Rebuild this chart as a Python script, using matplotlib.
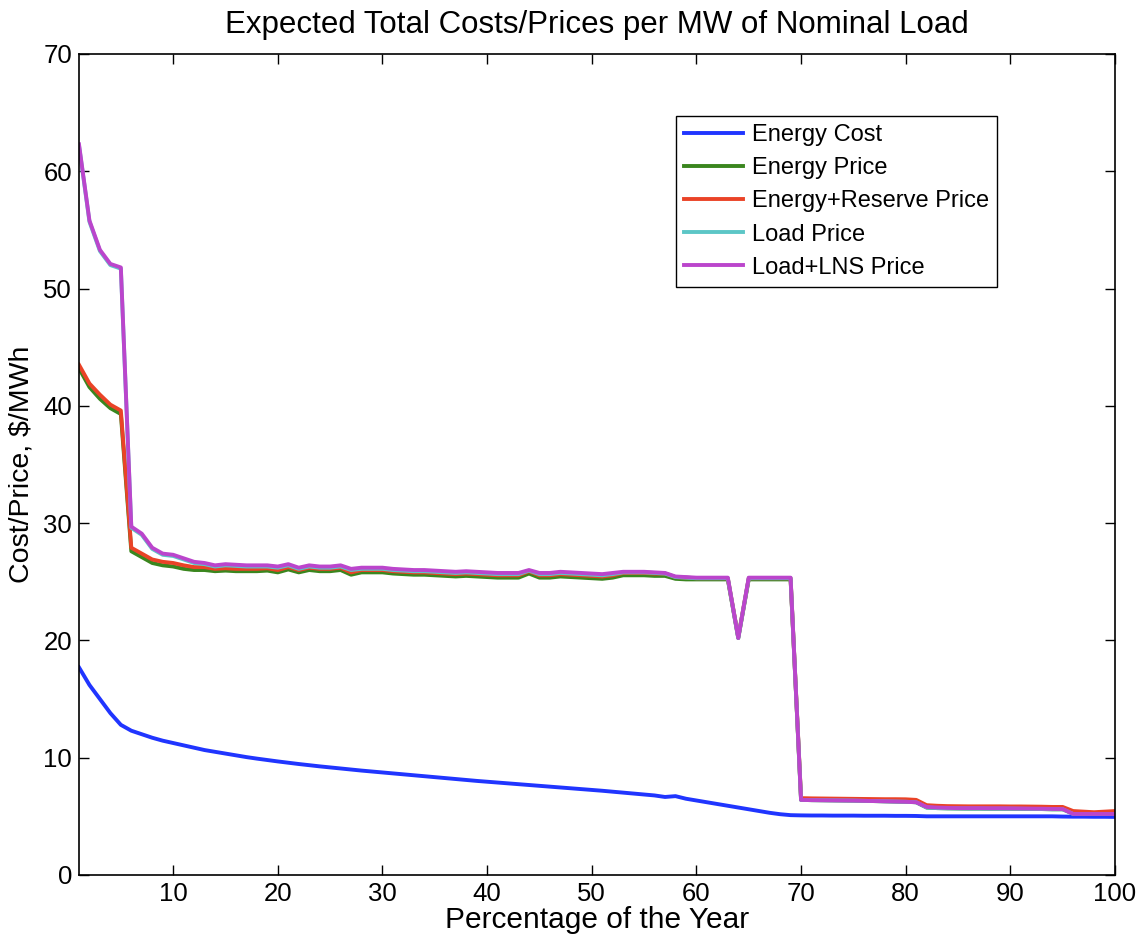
import matplotlib
matplotlib.use("Agg")
import matplotlib.pyplot as plt

plt.rcParams['font.family'] = ['Liberation Sans', 'DejaVu Sans']

pct = list(range(1, 101))

energy_cost = [
    17.7, 16.2, 15.0, 13.8, 12.8, 12.3, 12.0, 11.7, 11.45, 11.25,
    11.05, 10.85, 10.65, 10.5, 10.35, 10.2, 10.05, 9.92, 9.8, 9.68,
    9.57, 9.46, 9.36, 9.26, 9.17, 9.08, 8.99, 8.9, 8.82, 8.74,
    8.66, 8.58, 8.5, 8.42, 8.34, 8.26, 8.18, 8.1, 8.02, 7.95,
    7.88, 7.81, 7.74, 7.67, 7.6, 7.53, 7.46, 7.39, 7.32, 7.25,
    7.18, 7.1, 7.02, 6.94, 6.86, 6.78, 6.65, 6.72, 6.5, 6.35,
    6.2, 6.05, 5.9, 5.75, 5.6, 5.45, 5.3, 5.18, 5.1, 5.08,
    5.07, 5.07, 5.06, 5.06, 5.06, 5.05, 5.05, 5.05, 5.04, 5.04,
    5.03, 5.0, 5.0, 5.0, 5.0, 5.0, 5.0, 5.0, 5.0, 5.0,
    5.0, 5.0, 5.0, 5.0, 4.98, 4.97, 4.97, 4.96, 4.96, 4.95,
]

energy_price = [
    43.2, 41.6, 40.6, 39.8, 39.3, 27.6, 27.1, 26.6, 26.4, 26.3,
    26.1, 26.0, 26.0, 25.9, 25.95, 25.9, 25.9, 25.9, 25.95, 25.8,
    26.05, 25.8, 26.0, 25.9, 25.9, 26.0, 25.6, 25.8, 25.8, 25.8,
    25.7, 25.65, 25.6, 25.6, 25.55, 25.5, 25.45, 25.5, 25.45, 25.4,
    25.35, 25.35, 25.35, 25.7, 25.35, 25.35, 25.45, 25.4, 25.35, 25.3,
    25.25, 25.35, 25.55, 25.55, 25.55, 25.5, 25.5, 25.25, 25.2, 25.2,
    25.2, 25.2, 25.2, 20.2, 25.2, 25.2, 25.2, 25.2, 25.2, 6.4,
    6.38, 6.37, 6.36, 6.35, 6.34, 6.32, 6.3, 6.28, 6.26, 6.24,
    6.2, 5.75, 5.7, 5.68, 5.67, 5.66, 5.66, 5.65, 5.65, 5.65,
    5.64, 5.63, 5.62, 5.6, 5.6, 5.25, 5.2, 5.2, 5.2, 5.25,
]

energy_reserve_price = [
    43.5, 41.9, 40.95, 40.1, 39.6, 27.9, 27.4, 26.9, 26.7, 26.6,
    26.4, 26.25, 26.25, 26.1, 26.15, 26.1, 26.1, 26.1, 26.15, 26.0,
    26.25, 26.0, 26.2, 26.1, 26.1, 26.2, 25.8, 26.0, 26.0, 26.0,
    25.9, 25.85, 25.8, 25.8, 25.75, 25.7, 25.65, 25.7, 25.65, 25.6,
    25.55, 25.55, 25.55, 25.9, 25.55, 25.55, 25.65, 25.6, 25.55, 25.5,
    25.45, 25.55, 25.75, 25.75, 25.75, 25.7, 25.7, 25.4, 25.35, 25.3,
    25.3, 25.3, 25.3, 20.3, 25.3, 25.3, 25.3, 25.3, 25.3, 6.55,
    6.53, 6.52, 6.51, 6.5, 6.49, 6.48, 6.47, 6.46, 6.46, 6.45,
    6.4, 5.95, 5.9, 5.87, 5.86, 5.85, 5.85, 5.85, 5.85, 5.84,
    5.84, 5.83, 5.82, 5.8, 5.8, 5.45, 5.4, 5.35, 5.4, 5.45,
]

load_price = [
    62.2, 55.7, 53.2, 52.0, 51.7, 29.6, 29.0, 27.8, 27.3, 27.2,
    26.9, 26.6, 26.5, 26.3, 26.4, 26.35, 26.3, 26.3, 26.3, 26.2,
    26.4, 26.1, 26.3, 26.2, 26.2, 26.3, 26.0, 26.1, 26.1, 26.1,
    26.0, 25.95, 25.9, 25.9, 25.85, 25.8, 25.75, 25.8, 25.75, 25.7,
    25.65, 25.65, 25.65, 25.95, 25.65, 25.65, 25.75, 25.7, 25.65, 25.6,
    25.55, 25.65, 25.8, 25.8, 25.8, 25.75, 25.7, 25.4, 25.35, 25.3,
    25.3, 25.3, 25.3, 20.2, 25.3, 25.3, 25.3, 25.3, 25.3, 6.4,
    6.38, 6.37, 6.36, 6.35, 6.34, 6.32, 6.3, 6.28, 6.26, 6.24,
    6.2, 5.75, 5.7, 5.68, 5.67, 5.66, 5.66, 5.65, 5.65, 5.65,
    5.64, 5.63, 5.62, 5.6, 5.6, 5.2, 5.2, 5.2, 5.2, 5.2,
]

load_lns_price = [
    62.3, 55.8, 53.3, 52.1, 51.8, 29.7, 29.1, 27.9, 27.4, 27.3,
    27.0, 26.7, 26.6, 26.4, 26.5, 26.45, 26.4, 26.4, 26.4, 26.3,
    26.5, 26.2, 26.4, 26.3, 26.3, 26.4, 26.1, 26.2, 26.2, 26.2,
    26.1, 26.05, 26.0, 26.0, 25.95, 25.9, 25.85, 25.9, 25.85, 25.8,
    25.75, 25.75, 25.75, 26.0, 25.75, 25.75, 25.85, 25.8, 25.75, 25.7,
    25.65, 25.75, 25.85, 25.85, 25.85, 25.8, 25.75, 25.45, 25.4, 25.35,
    25.35, 25.35, 25.35, 20.2, 25.35, 25.35, 25.35, 25.35, 25.35, 6.4,
    6.38, 6.37, 6.36, 6.35, 6.34, 6.32, 6.3, 6.28, 6.26, 6.24,
    6.2, 5.8, 5.75, 5.72, 5.7, 5.7, 5.7, 5.69, 5.69, 5.68,
    5.67, 5.66, 5.65, 5.63, 5.62, 5.2, 5.2, 5.2, 5.2, 5.2,
]

fig = plt.figure(figsize=(11.43, 9.39), dpi=100)
ax = fig.add_axes([0.0691, 0.0682, 0.9064, 0.8743])

lw = 2.8
ax.plot(pct, energy_cost, color='#2035ff', lw=lw, label='Energy Cost')
ax.plot(pct, energy_price, color='#3a861e', lw=lw, label='Energy Price')
ax.plot(pct, energy_reserve_price, color='#ea4327', lw=lw, label='Energy+Reserve Price')
ax.plot(pct, load_price, color='#5cc6c6', lw=lw, label='Load Price')
ax.plot(pct, load_lns_price, color='#bb45cc', lw=lw, label='Load+LNS Price')

ax.set_xlim(1, 100)
ax.set_ylim(0, 70)
ax.set_xticks(range(10, 101, 10))
ax.set_yticks(range(0, 71, 10))
ax.tick_params(direction='in', top=True, right=True, labelsize=18.5, length=7, width=1, pad=5)
for s in ax.spines.values():
    s.set_linewidth(1.2)

ax.set_title('Expected Total Costs/Prices per MW of Nominal Load', fontsize=22.5, pad=15)
ax.set_xlabel('Percentage of the Year', fontsize=21.5, labelpad=0)
ax.set_ylabel('Cost/Price, $/MWh', fontsize=20.5, labelpad=6)

leg = ax.legend(loc='upper right', bbox_to_anchor=(0.886, 0.9245), fontsize=17,
                fancybox=False, framealpha=1, edgecolor='black', handlelength=2.5,
                borderpad=0.35, labelspacing=0.47, handletextpad=0.35, borderaxespad=0)
leg.get_frame().set_linewidth(1)

fig.savefig('out.png', dpi=100)
